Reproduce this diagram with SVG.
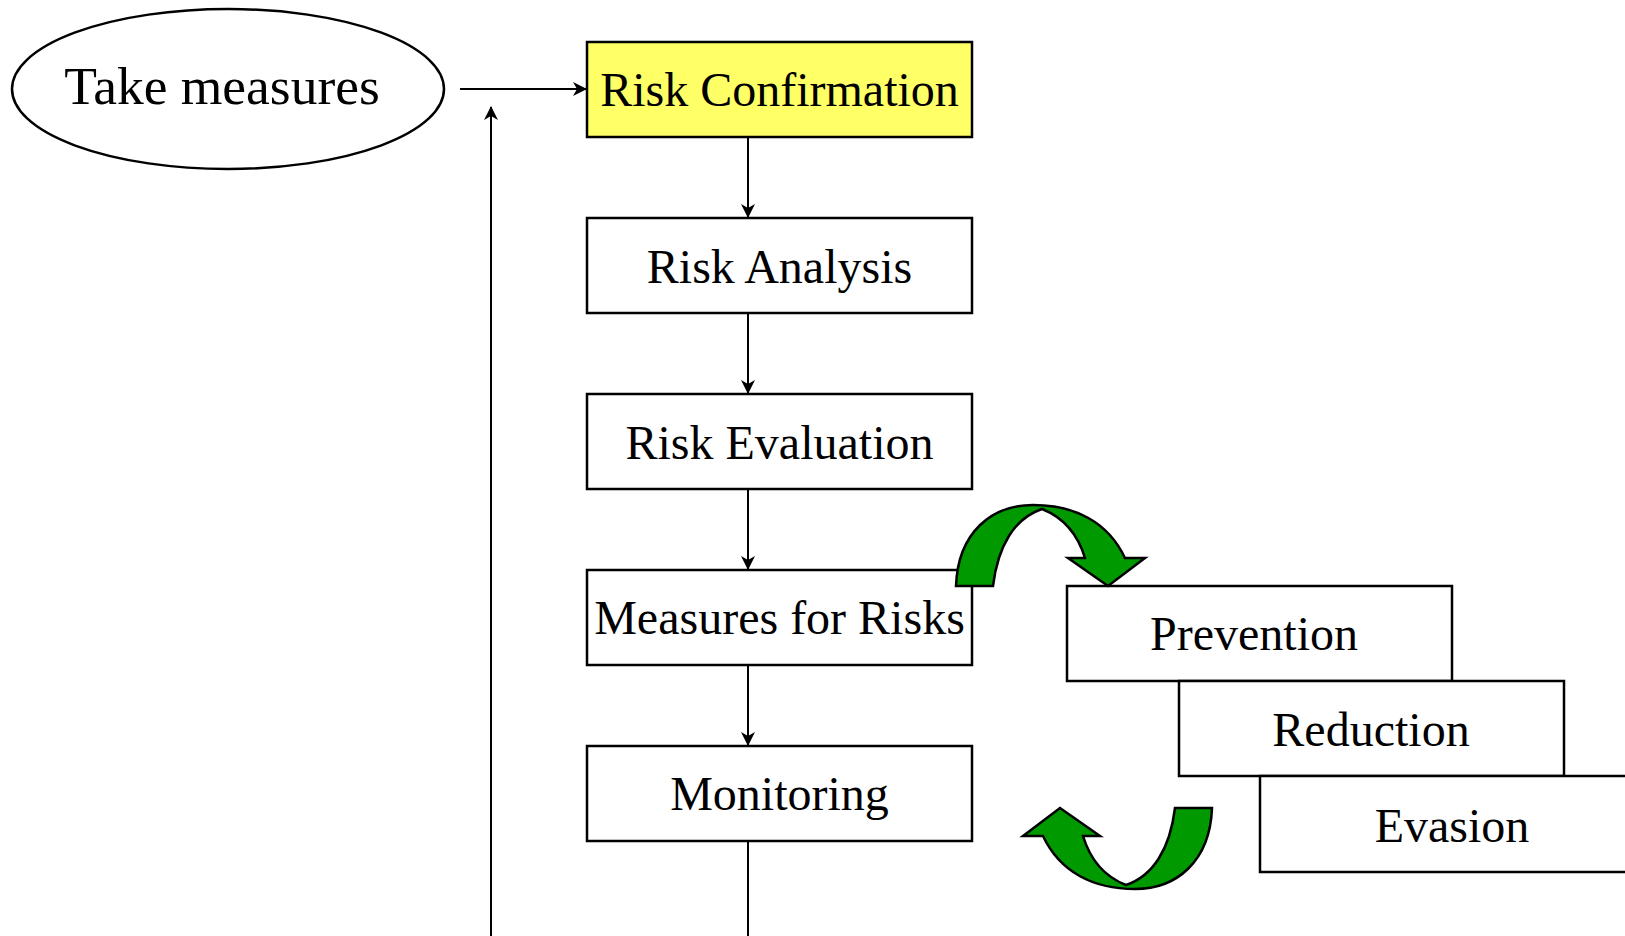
<svg xmlns="http://www.w3.org/2000/svg" width="1625" height="936" viewBox="0 0 1625 936">
<style>
.box{fill:#ffffff;stroke:#000000;stroke-width:2.5}
.yel{fill:#ffff66}
.lbl{font-family:"Liberation Serif","Times New Roman",serif;font-size:48px;fill:#000000;text-anchor:middle}
.con{fill:none;stroke:#000000;stroke-width:2}
.grn{fill:#009900;stroke:#000000;stroke-width:2.5;stroke-linejoin:miter}
</style>
<defs>
<marker id="ah" markerUnits="userSpaceOnUse" markerWidth="14" markerHeight="14" refX="13" refY="7" orient="auto" viewBox="0 0 14 14">
<path d="M0,0 L14,7 L0,14 L4,7 Z" fill="#000000"/>
</marker>
</defs>
<rect width="1625" height="936" fill="#ffffff"/>
<g id="connectors">
<line class="con" x1="460" y1="89" x2="586" y2="89" marker-end="url(#ah)"/>
<line class="con" x1="491" y1="936" x2="491" y2="107" marker-end="url(#ah)"/>
<line class="con" x1="748" y1="137" x2="748" y2="217" marker-end="url(#ah)"/>
<line class="con" x1="748" y1="313" x2="748" y2="393" marker-end="url(#ah)"/>
<line class="con" x1="748" y1="489" x2="748" y2="569" marker-end="url(#ah)"/>
<line class="con" x1="748" y1="665" x2="748" y2="745" marker-end="url(#ah)"/>
<line class="con" x1="748" y1="841" x2="748" y2="936"/>
</g>
<g id="take-measures">
<ellipse cx="228" cy="89" rx="216" ry="80" class="box"/>
<text x="222" y="104" class="lbl" style="font-size:53.5px">Take measures</text>
</g>
<g id="risk-confirmation">
<rect x="587" y="42" width="385" height="95" class="box yel"/>
<text x="779.5" y="106" class="lbl">Risk Confirmation</text>
</g>
<g id="risk-analysis">
<rect x="587" y="218" width="385" height="95" class="box"/>
<text x="779.5" y="283" class="lbl">Risk Analysis</text>
</g>
<g id="risk-evaluation">
<rect x="587" y="394" width="385" height="95" class="box"/>
<text x="779.5" y="459" class="lbl">Risk Evaluation</text>
</g>
<g id="measures-for-risks">
<rect x="587" y="570" width="385" height="95" class="box"/>
<text x="779.5" y="634" class="lbl">Measures for Risks</text>
</g>
<g id="monitoring">
<rect x="587" y="746" width="385" height="95" class="box"/>
<text x="779.5" y="810" class="lbl">Monitoring</text>
</g>
<g id="prevention">
<rect x="1067" y="586" width="385" height="95" class="box"/>
<text x="1254" y="650" class="lbl">Prevention</text>
</g>
<g id="reduction">
<rect x="1179" y="681" width="385" height="95" class="box"/>
<text x="1371" y="746" class="lbl">Reduction</text>
</g>
<g id="evasion">
<rect x="1260" y="776" width="385" height="96" class="box"/>
<text x="1452" y="842" class="lbl">Evasion</text>
</g>
<g id="cycle-arrows">
<path class="grn" d="M956,586 C958,532 992,505 1033,505 C1075,505 1108,522 1125,558 L1145,558 L1108,586 L1068,558 L1085,558 C1078,535 1065,518 1042,509 C1015,518 998,545 993,586 Z"/>
<path class="grn" transform="rotate(180 1084 697)" d="M956,586 C958,532 992,505 1033,505 C1075,505 1108,522 1125,558 L1145,558 L1108,586 L1068,558 L1085,558 C1078,535 1065,518 1042,509 C1015,518 998,545 993,586 Z"/>
</g>
</svg>
